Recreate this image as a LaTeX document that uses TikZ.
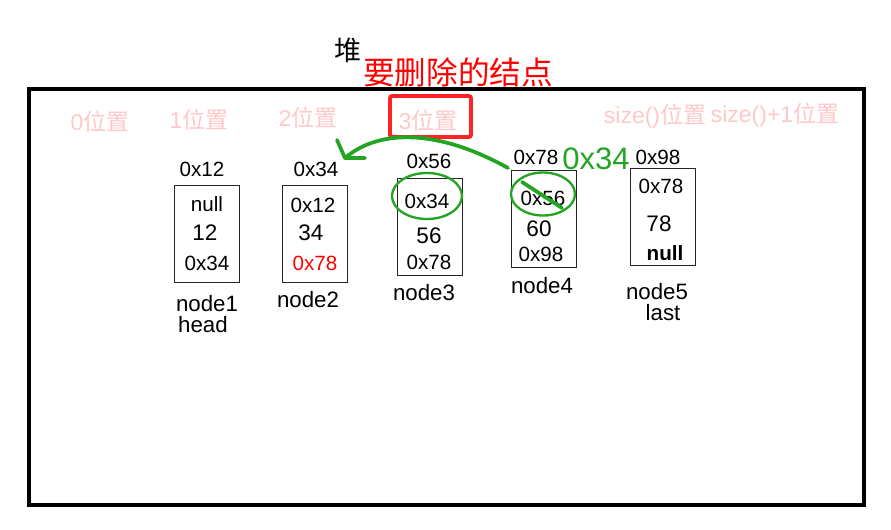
\documentclass[tikz,border=0pt]{standalone}
\usepackage{fontspec}
\setmainfont{Liberation Sans}
\newfontfamily\cjk{Noto Sans CJK SC}
\definecolor{pospink}{RGB}{255,200,200}
\definecolor{markred}{RGB}{255,35,35}
\definecolor{penGreen}{RGB}{35,165,35}
\tikzset{
  cell/.style={inner sep=0pt,font=\fontsize{17.6}{19}\selectfont},
  value/.style={inner sep=0pt,font=\fontsize{19.2}{21}\selectfont},
  nodename/.style={inner sep=0pt,font=\fontsize{19}{21}\selectfont},
  poslabel/.style={inner sep=0pt,text=pospink,font=\fontsize{19.6}{21}\selectfont},
  listbox/.style={draw=black!85,line width=1.3pt,minimum width=1.95cm,minimum height=2.9cm,inner sep=0pt},
  greenpen/.style={draw=penGreen,line width=3.2pt,line cap=round,line join=round},
}
\begin{document}
\begin{tikzpicture}[x=0.03cm,y=-0.03cm]
\useasboundingbox (0,0) rectangle (891,529);
% heap area
\draw[line width=2.6pt] (29,89) rectangle (864,505);
\node[inner sep=0pt,font=\cjk\fontsize{23}{25}\selectfont] (heap) at (348,50) {堆};
\node[inner sep=0pt,text=red,font=\cjk\fontsize{27}{29}\selectfont] (title) at (458,72) {要删除的结点};

% positions
\node[poslabel] (p0) at (100,122) {0{\cjk 位置}};
\node[poslabel] (p1) at (199,120) {1{\cjk 位置}};
\node[poslabel] (p2) at (308,118) {2{\cjk 位置}};
\node[poslabel] (p3) at (428,121) {3{\cjk 位置}};
\node[poslabel] (psize) at (655,116) {size(){\cjk 位置}};
\node[poslabel] (psizeone) at (775,115) {size()+1{\cjk 位置}};
\draw[markred,line width=3.4pt,rounded corners=2pt] (390,96) rectangle (471,137);

% node1
\node[listbox] (n1box) at (207,234) {};
\node[cell] (n1addr) at (202,169) {0x12};
\node[cell] (n1prev) at (207,204) {null};
\node[value] (n1val) at (205,233) {12};
\node[cell] (n1next) at (207,263) {0x34};
\node[nodename] (n1name) at (207,304) {node1};
\node[nodename] (n1head) at (203,325) {head};

% node2
\node[listbox] (n2box) at (315,234) {};
\node[cell] (n2addr) at (316,169) {0x34};
\node[cell] (n2prev) at (313,205) {0x12};
\node[value] (n2val) at (311,233) {34};
\node[cell,text=red] (n2next) at (315,263) {0x78};
\node[nodename] (n2name) at (308,300) {node2};

% node3
\node[listbox] (n3box) at (430,227) {};
\node[cell] (n3addr) at (429,161) {0x56};
\node[cell] (n3prev) at (427,201) {0x34};
\node[value] (n3val) at (429,236) {56};
\node[cell] (n3next) at (429,262) {0x78};
\node[nodename] (n3name) at (424,293) {node3};

% node4
\node[listbox] (n4box) at (544,219) {};
\node[cell] (n4addr) at (536,157) {0x78};
\node[cell] (n4prev) at (543,198) {0x56};
\node[value] (n4val) at (539,229) {60};
\node[cell] (n4next) at (541,254) {0x98};
\node[nodename] (n4name) at (542,286) {node4};

% node5
\node[listbox] (n5box) at (663,217) {};
\node[cell] (n5addr) at (658,157) {0x98};
\node[cell] (n5prev) at (661,186) {0x78};
\node[value] (n5val) at (659,224) {78};
\node[cell,font=\bfseries\fontsize{17.6}{19}\selectfont] (n5next) at (665,253) {null};
\node[nodename] (n5name) at (657,292) {node5};
\node[nodename] (n5last) at (663,313) {last};

% green marks
\draw[penGreen,line width=2pt] (427,196) ellipse (35 and 23);
\draw[penGreen,line width=2pt] (543,194) ellipse (32 and 21.5);
\draw[greenpen] (522,182) -- (562,208);
\node[inner sep=0pt,text=penGreen,font=\fontsize{26.5}{28}\selectfont] (newnext) at (596,159) {0x34};
\coordinate (gstart) at (508,168);
\coordinate (gend) at (345,158);
\draw[greenpen] (gstart) .. controls (440,130) and (380,128) .. (gend);
\draw[greenpen] (337,140) -- (gend) -- (365,158);
\end{tikzpicture}
\end{document}
